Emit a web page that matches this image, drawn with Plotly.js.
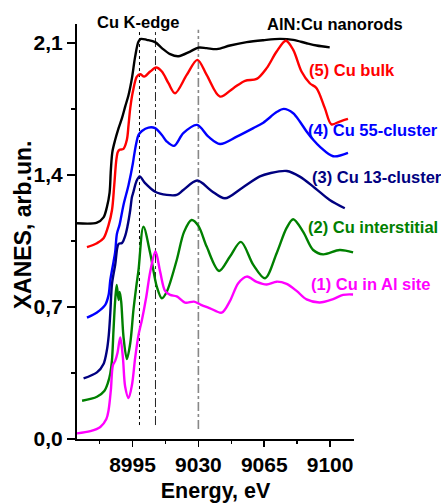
<!DOCTYPE html>
<html>
<head>
<meta charset="utf-8">
<script src="https://cdn.plot.ly/plotly-3.0.1.min.js"></script>
<style>html,body{margin:0;padding:0;background:#fff;}#chart{width:441px;height:504px;}</style>
</head>
<body>
<div id="chart"></div>
<script>
// (AlN:Cu nanorods) experimental
const energyExp = [8965.5, 8976.1, 8979.6, 8981.4, 8982.8, 8983.5, 8984.3, 8985.8, 8987.6, 8989.4, 8991.1, 8992.9, 8994.7, 8996.4, 8998.2, 8999.5, 9002.6, 9007.0, 9010.6, 9015.0, 9019.4, 9025.6, 9030.0, 9034.4, 9039.8, 9046.8, 9055.7, 9064.5, 9073.3, 9080.4, 9087.5, 9092.8, 9099.8];
const xanesExp  = [1.144, 1.147, 1.175, 1.230, 1.305, 1.427, 1.522, 1.586, 1.648, 1.701, 1.762, 1.824, 1.913, 2.027, 2.107, 2.121, 2.116, 2.104, 2.072, 2.040, 2.029, 2.054, 2.075, 2.072, 2.067, 2.086, 2.104, 2.114, 2.121, 2.116, 2.098, 2.086, 2.076];

// (5) Cu bulk
const energyBulk = [8970.8, 8976.1, 8979.6, 8982.3, 8984.1, 8985.3, 8986.4, 8987.2, 8988.1, 8990.2, 8992.0, 8992.9, 8993.8, 8995.2, 8997.3, 8999.1, 9001.2, 9004.4, 9007.6, 9010.6, 9014.1, 9017.6, 9023.8, 9029.5, 9034.4, 9041.5, 9048.6, 9054.8, 9061.0, 9066.3, 9071.6, 9076.5, 9080.4, 9084.8, 9089.2, 9092.8, 9097.2, 9100.7, 9105.1, 9109.5];
const xanesBulk  = [1.017, 1.038, 1.064, 1.135, 1.214, 1.347, 1.480, 1.522, 1.533, 1.538, 1.586, 1.665, 1.754, 1.842, 1.921, 1.934, 1.921, 1.948, 1.969, 1.948, 1.886, 1.833, 1.930, 2.010, 1.930, 1.815, 1.860, 1.899, 1.909, 1.966, 2.054, 2.111, 2.063, 1.948, 1.886, 1.860, 1.754, 1.668, 1.683, 1.697];

// (4) Cu 55-cluster
const energyC55 = [8970.8, 8976.1, 8980.5, 8982.3, 8983.2, 8984.9, 8985.8, 8986.7, 8988.1, 8990.2, 8992.9, 8995.2, 8995.8, 8997.0, 8998.2, 9000.0, 9003.5, 9007.0, 9010.6, 9013.2, 9017.1, 9022.0, 9029.3, 9035.3, 9041.5, 9050.4, 9059.2, 9064.5, 9071.6, 9075.4, 9080.4, 9083.9, 9087.5, 9091.0, 9094.5, 9101.6, 9109.5];
const xanesC55  = [0.643, 0.671, 0.711, 0.764, 0.843, 0.939, 0.992, 1.087, 1.135, 1.241, 1.347, 1.462, 1.501, 1.568, 1.612, 1.633, 1.651, 1.648, 1.612, 1.577, 1.554, 1.621, 1.665, 1.603, 1.564, 1.603, 1.648, 1.677, 1.733, 1.750, 1.727, 1.683, 1.630, 1.586, 1.550, 1.499, 1.517];

// (3) Cu 13-cluster
const energyC13 = [8969.0, 8976.1, 8979.6, 8981.4, 8982.4, 8983.2, 8984.1, 8985.8, 8987.6, 8989.4, 8991.1, 8992.3, 8993.8, 8994.7, 8995.5, 8997.0, 8998.8, 9001.7, 9007.0, 9013.2, 9018.5, 9022.0, 9029.4, 9037.0, 9044.1, 9053.2, 9062.7, 9068.0, 9077.0, 9083.9, 9091.9, 9099.8, 9107.8];
const xanesC13  = [0.321, 0.353, 0.398, 0.472, 0.552, 0.668, 0.822, 0.923, 1.034, 1.039, 1.077, 1.126, 1.214, 1.283, 1.310, 1.364, 1.392, 1.356, 1.311, 1.294, 1.294, 1.320, 1.370, 1.315, 1.276, 1.331, 1.392, 1.409, 1.421, 1.391, 1.331, 1.267, 1.223];

// (2) Cu interstitial
const energyInt = [8968.2, 8976.1, 8980.0, 8981.9, 8983.2, 8984.1, 8984.9, 8985.8, 8986.6, 8987.6, 8988.2, 8989.0, 8990.2, 8992.0, 8993.8, 8995.5, 8997.0, 8998.2, 9000.8, 9004.4, 9007.9, 9010.6, 9013.2, 9018.5, 9022.4, 9026.4, 9030.0, 9034.4, 9041.0, 9046.8, 9052.6, 9059.2, 9065.4, 9071.6, 9076.9, 9080.4, 9085.7, 9091.0, 9096.3, 9105.1, 9112.2];
const xanesInt  = [0.203, 0.224, 0.255, 0.297, 0.348, 0.419, 0.578, 0.737, 0.817, 0.737, 0.780, 0.727, 0.543, 0.424, 0.508, 0.684, 0.808, 0.896, 1.126, 0.985, 0.808, 0.746, 0.781, 0.949, 1.098, 1.161, 1.130, 1.020, 0.891, 0.967, 1.045, 0.923, 0.852, 0.985, 1.119, 1.165, 1.098, 1.002, 0.979, 1.002, 0.989];

// (1) Cu in Al site
const energyAl = [8965.5, 8972.6, 8977.9, 8981.1, 8982.3, 8983.5, 8984.6, 8985.8, 8987.0, 8988.5, 8989.9, 8991.1, 8992.9, 8994.7, 8996.4, 8998.2, 9000.0, 9002.3, 9004.4, 9007.2, 9009.7, 9012.3, 9015.0, 9018.5, 9022.9, 9027.7, 9031.4, 9036.2, 9042.4, 9046.8, 9051.2, 9055.7, 9061.0, 9066.3, 9071.6, 9076.9, 9082.2, 9087.5, 9094.5, 9101.6, 9106.9, 9112.2];
const xanesAl  = [0.030, 0.042, 0.064, 0.106, 0.154, 0.260, 0.392, 0.414, 0.456, 0.538, 0.430, 0.277, 0.217, 0.286, 0.430, 0.552, 0.631, 0.753, 0.886, 0.994, 0.886, 0.785, 0.764, 0.756, 0.723, 0.728, 0.711, 0.693, 0.670, 0.732, 0.826, 0.861, 0.833, 0.819, 0.834, 0.822, 0.785, 0.740, 0.724, 0.742, 0.764, 0.766];

// Reference energies (vertical guide lines)
const guideEnergies = [8998.7, 9007.2, 9030.0];
const guideBottoms  = [0.074, 0.074, 0.053];
const guideTop = 2.169;

// Labels
const seriesLabels = ["AlN:Cu nanorods", "(5) Cu bulk", "(4) Cu 55-cluster", "(3) Cu 13-cluster", "(2) Cu interstitial", "(1) Cu in Al site"];
const labelX = [9102.5, 9087.5, 9087.1, 9089.2, 9087.1, 9088.9];
const labelY = [2.201, 1.957, 1.639, 1.391, 1.126, 0.822];
const edgeLabel = "Cu K-edge";
const edgeLabelPos = [8998.2, 2.213];
const xTitle = "Energy, eV";
const yTitle = "XANES, arb.un.";

const colors = ["#000000", "#ff0000", "#0000ff", "#000080", "#008000", "#ff00ff"];
const FONT = "Liberation Sans, Arial, sans-serif";
const Y_MAX = 2.2;

const xs = [energyExp, energyBulk, energyC55, energyC13, energyInt, energyAl];
const ys = [xanesExp, xanesBulk, xanesC55, xanesC13, xanesInt, xanesAl];

const traces = xs.map((x, i) => ({
  x: x, y: ys[i], type: "scatter", mode: "lines",
  line: {color: colors[i], width: 2.4, shape: "spline", smoothing: 0.9},
  name: seriesLabels[i], showlegend: false, hoverinfo: "skip"
}));

const guideStyles = [
  {color: "#000000", width: 1, dash: "dot"},
  {color: "#222222", width: 1, dash: "dashdot"},
  {color: "#888888", width: 1.6, dash: "dashdot"}
];
const shapes = guideEnergies.map((e, i) => ({
  type: "line", xref: "x", yref: "y", x0: e, x1: e, y0: guideBottoms[i], y1: guideTop,
  line: guideStyles[i], layer: "below"
}));

// labels near the top edge are placed with paper y (value / axis max) so they are not hidden
function yRefFor(v) { return v > Y_MAX * 0.99 ? "paper" : "y"; }
function yValFor(v) { return v > Y_MAX * 0.99 ? v / Y_MAX : v; }

const annotations = seriesLabels.map((t, i) => ({
  text: t, x: labelX[i], y: yValFor(labelY[i]), xref: "x", yref: yRefFor(labelY[i]),
  xanchor: i === 0 ? "center" : "left", yanchor: "middle", showarrow: false,
  font: {family: FONT, size: 16.5, color: colors[i], weight: 700}
}));
annotations.push({
  text: edgeLabel, x: edgeLabelPos[0], y: yValFor(edgeLabelPos[1]), xref: "x", yref: yRefFor(edgeLabelPos[1]),
  xanchor: "center", yanchor: "middle", showarrow: false,
  font: {family: FONT, size: 16.5, color: "#000000", weight: 700}
});
// y-axis title as rotated annotation for exact placement
annotations.push({
  text: yTitle, x: -0.197, y: 0.516, xref: "paper", yref: "paper",
  xanchor: "center", yanchor: "middle", showarrow: false, textangle: -90,
  font: {family: FONT, size: 23, color: "#000000", weight: 700}
});

const layout = {
  width: 441, height: 504,
  margin: {l: 77, r: 87, t: 24, b: 65, pad: 0},
  paper_bgcolor: "#ffffff", plot_bgcolor: "#ffffff",
  separators: ",.",
  showlegend: false,
  font: {family: FONT, color: "#000000"},
  xaxis: {
    range: [8965.5, 9112.7], tickmode: "linear", tick0: 8995, dtick: 35, tickformat: "d",
    ticks: "outside", ticklen: 6, tickwidth: 1.5, tickcolor: "#000",
    showline: true, linewidth: 2, linecolor: "#000", showgrid: false, zeroline: false,
    tickfont: {family: FONT, size: 21, weight: 700, color: "#000"},
    minor: {dtick: 17.5, ticks: "outside", ticklen: 3, tickwidth: 1.5, tickcolor: "#000", showgrid: false},
    title: {text: xTitle, font: {family: FONT, size: 21.5, weight: 700, color: "#000"}, standoff: 8}
  },
  yaxis: {
    range: [0, Y_MAX], tickmode: "linear", tick0: 0, dtick: 0.7, tickformat: ".1f",
    ticks: "outside", ticklen: 8, tickwidth: 1.5, tickcolor: "#000",
    showline: true, linewidth: 2, linecolor: "#000", showgrid: false, zeroline: false,
    tickfont: {family: FONT, size: 21, weight: 700, color: "#000"},
    minor: {dtick: 0.35, ticks: "outside", ticklen: 4, tickwidth: 1.5, tickcolor: "#000", showgrid: false}
  },
  shapes: shapes,
  annotations: annotations
};

Plotly.newPlot("chart", traces, layout, {staticPlot: true, displayModeBar: false});
</script>
</body>
</html>
